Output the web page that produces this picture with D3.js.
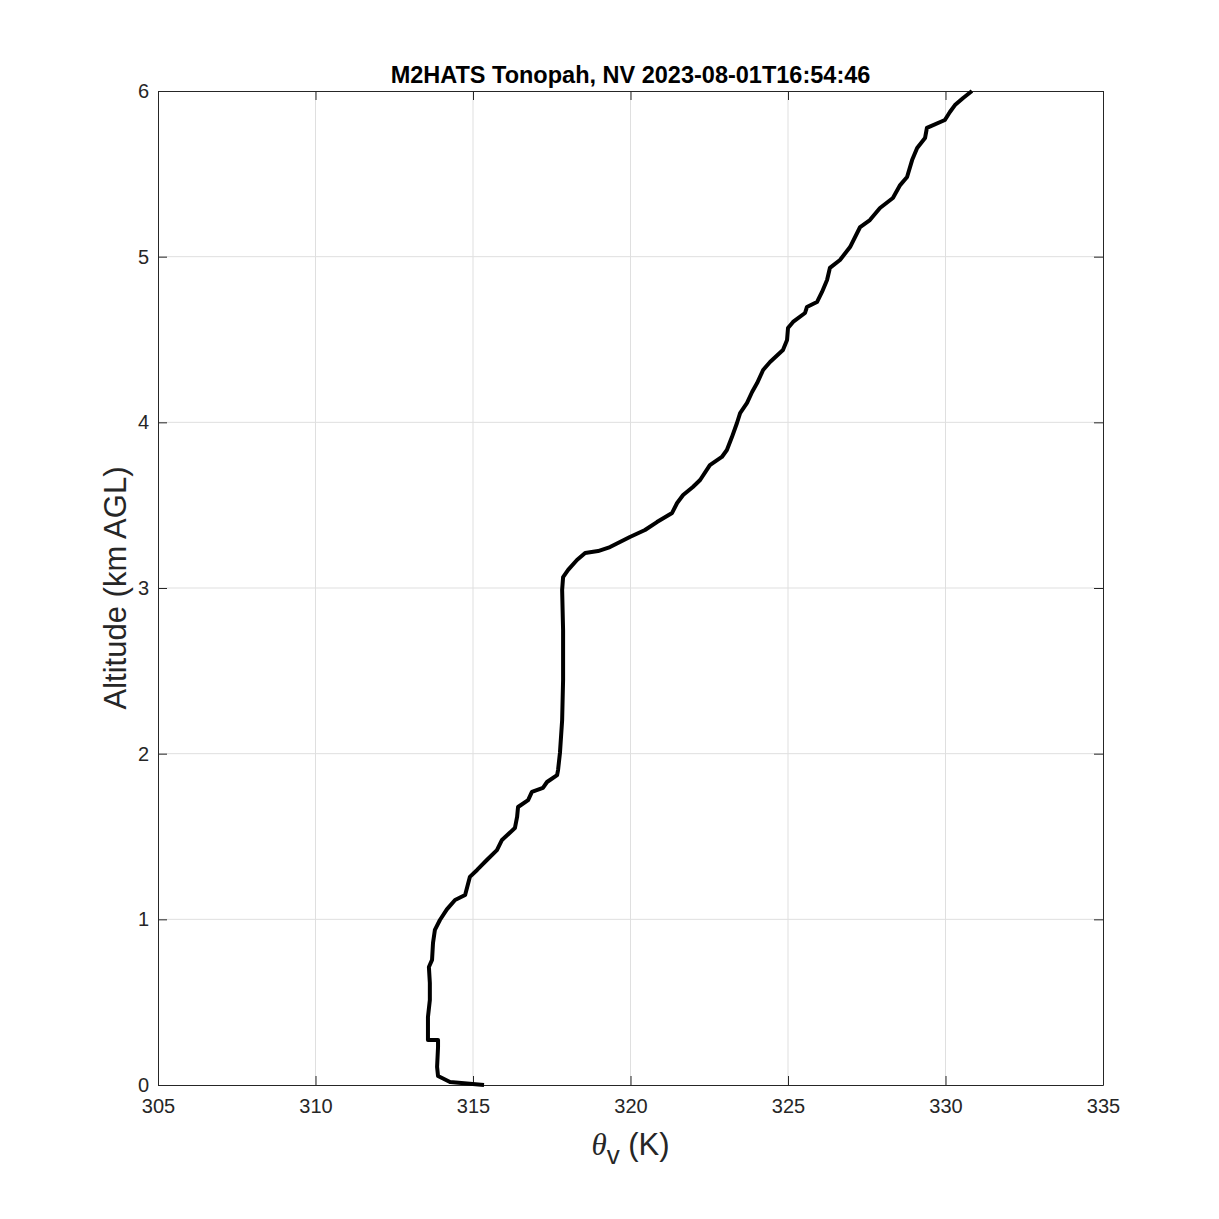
<!DOCTYPE html>
<html>
<head>
<meta charset="utf-8">
<script src="https://cdn.jsdelivr.net/npm/d3@7"></script>
<style>
  body { margin: 0; background: #fff; }
  svg { display: block; font-family: "Liberation Sans", Arial, Helvetica, sans-serif; }
</style>
</head>
<body>
<div id="chart"></div>
<script>
// sounding profile: virtual potential temperature (K) vs altitude (km AGL)
const thetaV = [315.35, 314.27, 313.89, 313.86, 313.89, 313.89, 313.57, 313.57, 313.63, 313.63,
  313.60, 313.70, 313.73, 313.79, 313.95, 314.17, 314.43, 314.75, 314.90, 315.13,
  315.44, 315.76, 315.92, 316.33, 316.40, 316.43, 316.75, 316.87, 317.22, 317.35,
  317.67, 317.70, 317.76, 317.83, 317.86, 317.86, 317.83, 317.86, 318.02, 318.30,
  318.56, 318.97, 319.35, 319.98, 320.46, 320.84, 321.32, 321.48, 321.67, 321.98,
  322.21, 322.52, 322.90, 323.06, 323.22, 323.38, 323.48, 323.70, 323.86, 324.02,
  324.21, 324.43, 324.84, 324.97, 325.00, 325.16, 325.54, 325.60, 325.92, 326.08,
  326.24, 326.33, 326.65, 326.97, 327.29, 327.60, 327.92, 328.33, 328.56, 328.78,
  328.94, 329.10, 329.35, 329.41, 329.98, 330.14, 330.30, 330.56, 330.84];
const altKm = [0.000, 0.018, 0.054, 0.109, 0.229, 0.272, 0.272, 0.410, 0.513, 0.616,
  0.712, 0.755, 0.857, 0.936, 0.996, 1.060, 1.117, 1.147, 1.256, 1.298,
  1.358, 1.418, 1.479, 1.551, 1.618, 1.678, 1.720, 1.769, 1.793, 1.829,
  1.871, 1.901, 2.004, 2.203, 2.445, 2.746, 2.988, 3.066, 3.109, 3.169,
  3.211, 3.223, 3.247, 3.308, 3.350, 3.398, 3.453, 3.513, 3.561, 3.610,
  3.652, 3.742, 3.791, 3.833, 3.911, 3.996, 4.056, 4.117, 4.183, 4.237,
  4.316, 4.364, 4.437, 4.497, 4.569, 4.606, 4.660, 4.696, 4.726, 4.787,
  4.859, 4.932, 4.980, 5.058, 5.179, 5.221, 5.294, 5.354, 5.432, 5.481,
  5.583, 5.656, 5.716, 5.777, 5.825, 5.873, 5.915, 5.958, 6.000];
const xTicks = [305, 310, 315, 320, 325, 330, 335];
const yTicks = [0, 1, 2, 3, 4, 5, 6];
const title = "M2HATS Tonopah, NV 2023-08-01T16:54:46";

const W = 1219, H = 1219;
const mLeft = 158, mRight = 1103, mTop = 91, mBottom = 1085;
const axisColor = "#262626";

const svg = d3.select("#chart").append("svg")
  .attr("width", W)
  .attr("height", H);

const x = d3.scaleLinear().domain([305, 335]).range([mLeft, mRight]);
const y = d3.scaleLinear().domain([0, 6]).range([mBottom, mTop]);

// grid
svg.append("g").selectAll("line")
  .data(xTicks.slice(1, -1))
  .enter().append("line")
  .attr("x1", d => x(d)).attr("x2", d => x(d))
  .attr("y1", mTop).attr("y2", mBottom)
  .attr("stroke", "#dfdfdf").attr("stroke-width", 1);
svg.append("g").selectAll("line")
  .data(yTicks.slice(1, -1))
  .enter().append("line")
  .attr("x1", mLeft).attr("x2", mRight)
  .attr("y1", d => y(d)).attr("y2", d => y(d))
  .attr("stroke", "#dfdfdf").attr("stroke-width", 1);

// axes (ticks pointing inward, box on all four sides)
const tickLen = 9;
function styleAxis(g) {
  g.select(".domain").attr("stroke", axisColor);
  g.selectAll(".tick line").attr("stroke", axisColor);
  g.selectAll(".tick text").attr("fill", axisColor).attr("font-size", "20px");
}
svg.append("g")
  .attr("transform", `translate(0,${mBottom})`)
  .call(d3.axisBottom(x).tickValues(xTicks).tickSizeInner(-tickLen).tickSizeOuter(0).tickPadding(14))
  .call(styleAxis);
svg.append("g")
  .attr("transform", `translate(0,${mTop})`)
  .call(d3.axisTop(x).tickValues(xTicks).tickSizeInner(-tickLen).tickSizeOuter(0).tickFormat(""))
  .call(styleAxis);
svg.append("g")
  .attr("transform", `translate(${mLeft},0)`)
  .call(d3.axisLeft(y).tickValues(yTicks).tickFormat(d3.format("d")).tickSizeInner(-tickLen).tickSizeOuter(0).tickPadding(9))
  .call(styleAxis);
svg.append("g")
  .attr("transform", `translate(${mRight},0)`)
  .call(d3.axisRight(y).tickValues(yTicks).tickSizeInner(-tickLen).tickSizeOuter(0).tickFormat(""))
  .call(styleAxis);

// profile line
const line = d3.line()
  .x((d, i) => x(thetaV[i]))
  .y(d => y(d));
svg.append("path")
  .datum(altKm)
  .attr("d", line)
  .attr("fill", "none")
  .attr("stroke", "#000")
  .attr("stroke-width", 4)
  .attr("stroke-linejoin", "round");

// title
svg.append("text")
  .attr("x", (mLeft + mRight) / 2)
  .attr("y", 83)
  .attr("text-anchor", "middle")
  .attr("font-size", "23.5px")
  .attr("font-weight", "bold")
  .attr("fill", "#000")
  .text(title);

// x label: theta_v (K)
const xl = svg.append("text")
  .attr("x", (mLeft + mRight) / 2)
  .attr("y", 1155)
  .attr("text-anchor", "middle")
  .attr("font-size", "31px")
  .attr("fill", axisColor);
xl.append("tspan").attr("font-style", "italic").attr("font-family", "'Liberation Serif', 'DejaVu Serif', serif").text("θ");
xl.append("tspan").attr("font-size", "26px").attr("dy", 9).text("v");
xl.append("tspan").attr("dy", -9).text(" (K)");

// y label
svg.append("text")
  .attr("transform", `translate(126,${(mTop + mBottom) / 2}) rotate(-90)`)
  .attr("text-anchor", "middle")
  .attr("font-size", "31px")
  .attr("fill", axisColor)
  .text("Altitude (km AGL)");
</script>
</body>
</html>
